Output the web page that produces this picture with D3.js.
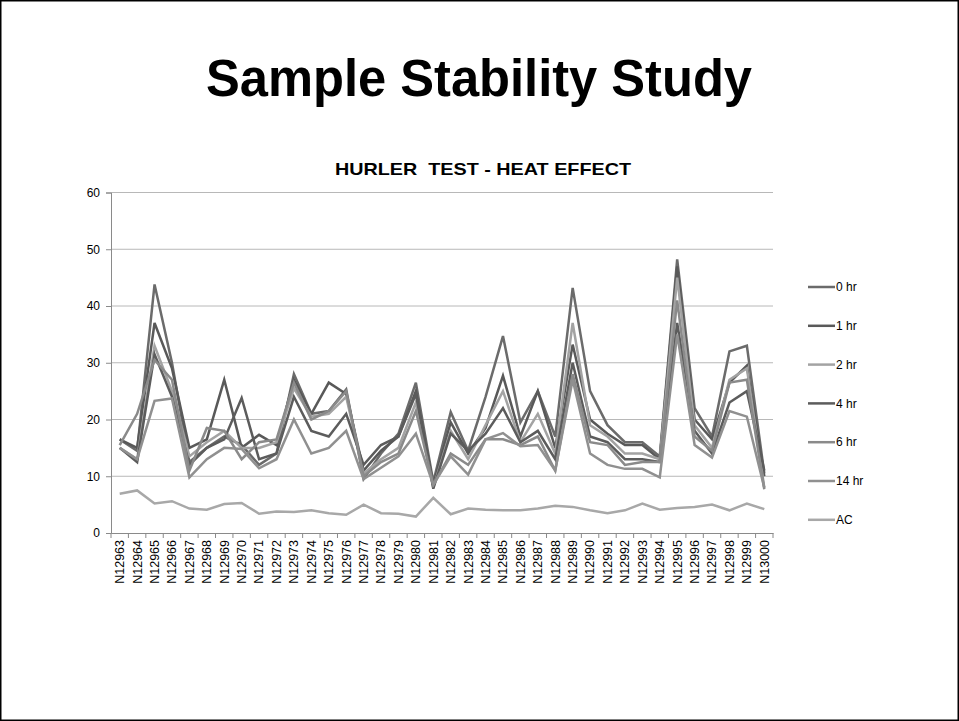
<!DOCTYPE html>
<meta charset="utf-8">
<style>
  body { margin: 0; background: #fff; }
  svg { display: block; font-family: "Liberation Sans", Arial, sans-serif; }
</style>
<body>
<svg width="959" height="721"></svg>

<script src="https://cdn.jsdelivr.net/npm/d3@7/dist/d3.min.js"></script>
<script>

// categories: sample ids N12963 .. N13000
var samples = ["N12963","N12964","N12965","N12966","N12967","N12968","N12969","N12970",
  "N12971","N12972","N12973","N12974","N12975","N12976","N12977","N12978","N12979",
  "N12980","N12981","N12982","N12983","N12984","N12985","N12986","N12987","N12988",
  "N12989","N12990","N12991","N12992","N12993","N12994","N12995","N12996","N12997",
  "N12998","N12999","N13000"];

var seriesNames = ["0 hr", "1 hr", "2 hr", "4 hr", "6 hr", "14 hr", "AC"];
var yTicks = [0, 10, 20, 30, 40, 50, 60];

var hr0  = [16.5, 14.5, 43.8, 30, 12.5, 15, 17, 15.5, 12, 14, 28, 21, 21.5, 25.3, 9.5, 14, 17.5, 26.5, 9, 21.3, 14.5, 24, 34.7, 19.5, 25, 17, 43.2, 25, 19, 16, 16, 13.5, 48.2, 22, 17, 32, 33, 10.5];
var hr1  = [16.5, 15, 37, 29, 15, 16.5, 27, 15, 17.3, 15.5, 27, 21, 26.5, 24.5, 11, 14.5, 17, 25, 8.5, 19.5, 14, 18.5, 27.7, 17, 25, 15, 33.2, 20, 17.5, 15.5, 15.5, 13, 47, 20, 16.5, 26.5, 29.5, 10];
var hr2  = [15, 13, 33, 25, 13.5, 16, 18, 15, 15, 16, 25.5, 20.5, 21, 24, 10.5, 13, 15, 23, 8, 18, 13, 19, 25, 16, 21, 14, 37, 19, 17, 14, 14, 13, 45, 19, 15, 27, 29, 8];
var hr4  = [15, 12.5, 31.5, 24, 12, 15, 16.5, 23.8, 13, 14, 24, 18, 17, 21, 12, 15.5, 17, 24.5, 7.8, 17.5, 14.5, 17.5, 22, 16, 18, 13, 30, 17, 16, 13, 13, 12.5, 37, 18, 14, 23, 25, 11];
var hr6  = [15.5, 21, 30.5, 27, 11, 18.5, 18, 13, 16, 16.5, 26.5, 20, 21.5, 25, 10, 12.5, 14, 21.5, 8.5, 14, 12, 16.5, 16.5, 15.5, 17, 11, 28, 16, 15.5, 12, 12.5, 12.5, 41, 17, 14.5, 26.5, 27, 7.7];
var hr14 = [15, 13, 23.3, 23.7, 9.8, 13, 15, 14.8, 11.4, 13, 20, 14, 15, 18, 9.5, 11.5, 13.5, 17.5, 8.5, 13.5, 10.3, 16.5, 17.6, 15.3, 15.5, 11, 27, 14, 12, 11.3, 11.3, 9.8, 35, 15.5, 13.3, 21.5, 20.5, 8];
var ac   = [6.9, 7.5, 5.2, 5.6, 4.3, 4.1, 5.1, 5.3, 3.4, 3.8, 3.7, 4.0, 3.5, 3.2, 5.0, 3.5, 3.4, 2.9, 6.2, 3.3, 4.3, 4.1, 4.0, 4.0, 4.3, 4.8, 4.6, 4.0, 3.5, 4.0, 5.2, 4.1, 4.4, 4.6, 5.0, 4.0, 5.2, 4.2];

var seriesValues = [hr0, hr1, hr2, hr4, hr6, hr14, ac];
var colors = ["#6b6b6b", "#595959", "#a3a3a3", "#5c5c5c", "#8a8a8a", "#909090", "#a8a8a8"];

var svg = d3.select("svg");

// slide border
svg.append("rect")
  .attr("x", 0.75).attr("y", 0.75)
  .attr("width", 957.5).attr("height", 719.5)
  .attr("fill", "none").attr("stroke", "#000").attr("stroke-width", 1.5);

// slide title
svg.append("text")
  .attr("x", 479).attr("y", 96)
  .attr("text-anchor", "middle")
  .attr("textLength", 546).attr("lengthAdjust", "spacingAndGlyphs")
  .style("font-size", "51px").style("font-weight", "bold")
  .text("Sample Stability Study");

// chart title
svg.append("text")
  .attr("x", 483).attr("y", 175)
  .attr("text-anchor", "middle")
  .attr("textLength", 296).attr("lengthAdjust", "spacingAndGlyphs")
  .style("font-size", "17px").style("font-weight", "bold")
  .style("white-space", "pre")
  .text("HURLER  TEST - HEAT EFFECT");

var margin = {left: 111, top: 192.5};
var width = 662, height = 340.5;

var x = d3.scaleBand().domain(samples).range([0, width]);
var y = d3.scaleLinear().domain([0, 60]).range([height, 0]);

var g = svg.append("g")
  .attr("transform", "translate(" + margin.left + "," + margin.top + ")");

// gridlines
g.selectAll(".grid").data(yTicks.filter(function(d) { return d > 0; }))
  .enter().append("line")
  .attr("x1", 0).attr("x2", width)
  .attr("y1", function(d) { return y(d); }).attr("y2", function(d) { return y(d); })
  .attr("stroke", "#b8b8b8").attr("stroke-width", 1);

// Y axis
var yAxis = g.append("g")
  .call(d3.axisLeft(y).tickValues(yTicks).tickSize(5).tickPadding(6));
yAxis.select(".domain").attr("stroke", "#8a8a8a");
yAxis.selectAll(".tick line").attr("stroke", "#8a8a8a");
yAxis.selectAll("text").style("font-size", "12px").attr("fill", "#000")
  .style("font-family", "Liberation Sans, Arial, sans-serif");

// X axis with ticks at category boundaries
var xAxis = g.append("g")
  .attr("transform", "translate(0," + height + ")")
  .call(d3.axisBottom(x).tickSize(0).tickPadding(0));
xAxis.select(".domain").attr("stroke", "#8a8a8a");
xAxis.selectAll(".tick text")
  .attr("transform", "rotate(-90)")
  .attr("x", -7).attr("y", 0).attr("dy", "0.35em")
  .attr("text-anchor", "end")
  .attr("fill", "#000")
  .style("font-size", "12.5px")
  .style("font-family", "Liberation Sans, Arial, sans-serif");

g.selectAll(".xtick").data(samples.concat(["end"]))
  .enter().append("line")
  .attr("x1", function(d, i) { return i * x.bandwidth(); })
  .attr("x2", function(d, i) { return i * x.bandwidth(); })
  .attr("y1", height).attr("y2", height + 5)
  .attr("stroke", "#8a8a8a");

// lines
var line = d3.line()
  .x(function(d, i) { return x(samples[i]) + x.bandwidth() / 2; })
  .y(function(d) { return y(d); });

seriesValues.forEach(function(vals, k) {
  g.append("path")
    .datum(vals)
    .attr("fill", "none")
    .attr("stroke", colors[k])
    .attr("stroke-width", 2.5)
    .attr("stroke-linejoin", "miter")
    .attr("d", line);
});

// legend
var legend = svg.append("g").attr("transform", "translate(808,287)");
seriesNames.forEach(function(name, k) {
  var row = legend.append("g").attr("transform", "translate(0," + (k * 38.8) + ")");
  row.append("line")
    .attr("x1", 0).attr("x2", 27)
    .attr("stroke", colors[k]).attr("stroke-width", 2.5);
  row.append("text")
    .attr("x", 28).attr("y", 0).attr("dy", "0.35em")
    .style("font-size", "12px")
    .text(name);
});

</script>
</body>
